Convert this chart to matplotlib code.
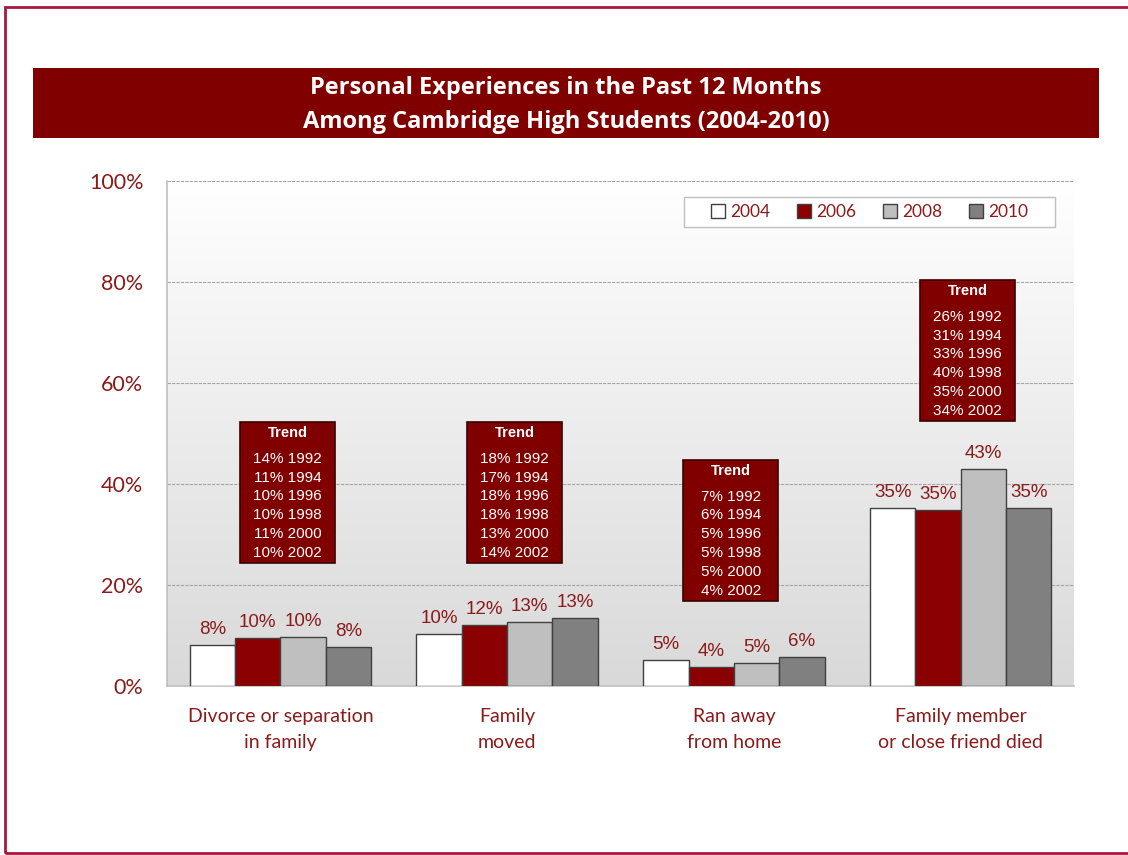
import matplotlib
matplotlib.use("Agg")
import matplotlib.pyplot as plt
import numpy as np
from matplotlib.patches import Rectangle, Patch
from matplotlib.colors import LinearSegmentedColormap

# ---------------- data ----------------
categories = ["Divorce or separation\nin family", "Family\nmoved",
              "Ran away\nfrom home", "Family member\nor close friend died"]
years = ["2004", "2006", "2008", "2010"]
v2004 = [8.2, 10.3, 5.1, 35.3]
v2006 = [9.6, 12.1, 3.7, 34.9]
v2008 = [9.7, 12.7, 4.5, 43.0]
v2010 = [7.7, 13.5, 5.7, 35.3]
lbl2004 = ["8%", "10%", "5%", "35%"]
lbl2006 = ["10%", "12%", "4%", "35%"]
lbl2008 = ["10%", "13%", "5%", "43%"]
lbl2010 = ["8%", "13%", "6%", "35%"]
trend_years = ["1992", "1994", "1996", "1998", "2000", "2002"]
trend_divorce = [14, 11, 10, 10, 11, 10]
trend_moved = [18, 17, 18, 18, 13, 14]
trend_ran = [7, 6, 5, 5, 5, 4]
trend_died = [26, 31, 33, 40, 35, 34]
yticks = [0, 20, 40, 60, 80, 100]

title = "Personal Experiences in the Past 12 Months\nAmong Cambridge High Students (2004-2010)"

# ---------------- style ----------------
DARK = "#800000"
TXT = "#8b1a1a"
colors = ["#ffffff", "#8b0000", "#bfbfbf", "#808080"]
W, H = 1128, 855
fig = plt.figure(figsize=(W / 100, H / 100), dpi=100)
fig.patch.set_facecolor("white")

# outer border
fig.add_artist(Rectangle((5 / W, 2 / H), 1.2, (846) / H, transform=fig.transFigure,
                         fill=False, edgecolor="#a8173f", linewidth=2))

# title banner
fig.add_artist(Rectangle((33 / W, 1 - 138 / H), (1099 - 33) / W, 70 / H,
                         transform=fig.transFigure, facecolor=DARK, edgecolor="none"))
fig.text(566 / W, 1 - 105 / H, title, ha="center", va="center", color="white",
         fontsize=17, fontweight="bold", family="Open Sans", linespacing=1.55)

ax = fig.add_axes([167 / W, 1 - 686 / H, (1074 - 167) / W, (686 - 181) / H])
ax.set_xlim(-0.5, 3.5)
ax.set_ylim(0, 100)

# gradient background
grad = np.linspace(0, 1, 256).reshape(-1, 1)
cm = LinearSegmentedColormap.from_list("g", ["#d9d9d9", "#ffffff"])
ax.imshow(grad, extent=[-0.5, 3.5, 0, 100], origin="lower", aspect="auto",
          cmap=cm, zorder=0)

for y in yticks[1:]:
    ax.axhline(y, color="#a6a6a6", linewidth=0.8, linestyle=(0, (3, 1)), zorder=1)

x = np.arange(len(categories))
bw = 0.2
series = [v2004, v2006, v2008, v2010]
labels = [lbl2004, lbl2006, lbl2008, lbl2010]
for i, (vals, lbls) in enumerate(zip(series, labels)):
    xs = x + (i - 1.5) * bw
    bars = ax.bar(xs, vals, width=bw, color=colors[i], edgecolor="#404040",
                  linewidth=1.0, zorder=3)
    for b, l in zip(bars, lbls):
        ax.annotate(l, (b.get_x() + b.get_width() / 2, b.get_height()),
                    xytext=(0, 5), textcoords="offset points", ha="center",
                    va="bottom", color=TXT, fontsize=13.5, family="Liberation Sans",
                    zorder=4)

# trend boxes
trend_sets = [trend_divorce, trend_moved, trend_ran, trend_died]
box_cx = [0.031, 1.033, 1.987, 3.03]
box_top = [52.3, 52.3, 44.8, 80.4]
box_w, box_h = 0.419, 28.0
for vals, cx, top in zip(trend_sets, box_cx, box_top):
    ax.add_patch(Rectangle((cx - box_w / 2, top - box_h), box_w, box_h,
                           facecolor=DARK, edgecolor="#3a0000", linewidth=1.2, zorder=5))
    ax.text(cx, top - 2.2, "Trend", ha="center", va="center", color="white",
            fontsize=10.5, fontweight="bold", family="Liberation Sans", zorder=6)
    for k, (v, yr) in enumerate(zip(vals, trend_years)):
        ax.text(cx, top - 7.3 - k * 3.72, f"{v}% {yr}", ha="center", va="center",
                color="white", fontsize=11, family="Liberation Sans", zorder=6)

# axes styling
for s in ["top", "right"]:
    ax.spines[s].set_visible(False)
ax.spines["left"].set_color("#bfbfbf")
ax.spines["bottom"].set_color("#bfbfbf")
ax.spines["left"].set_linewidth(1.2)
ax.spines["bottom"].set_linewidth(1.2)
ax.set_yticks(yticks)
ax.set_yticklabels([f"{t}%" for t in yticks], color=TXT, fontsize=15.5, family="Lato")
ax.set_xticks(x)
ax.set_xticklabels(categories, color=TXT, fontsize=14, family="Lato", linespacing=1.6)
ax.tick_params(axis="y", length=0, pad=17)
ax.tick_params(axis="x", length=0, pad=16)

# legend frame (drawn separately) + frameless legend
fig.add_artist(Rectangle((684 / W, 1 - 227 / H), (1055 - 684) / W, 30 / H,
                         transform=fig.transFigure, facecolor="white",
                         edgecolor="#bfbfbf", linewidth=1.0, zorder=6))
handles = [Patch(facecolor=c, edgecolor="#404040", linewidth=1.0) for c in colors]
leg = fig.legend(handles, years, ncol=4, loc="center left",
                 bbox_to_anchor=(711 / W, 1 - 212 / H), borderaxespad=0,
                 frameon=False, handlelength=0.8, handleheight=0.8,
                 handletextpad=0.3, columnspacing=1.55, borderpad=0,
                 prop={"family": "Lato", "size": 12.5})
leg.set_zorder(8)
for t in leg.get_texts():
    t.set_color(TXT)

fig.savefig("out.png", dpi=100)
